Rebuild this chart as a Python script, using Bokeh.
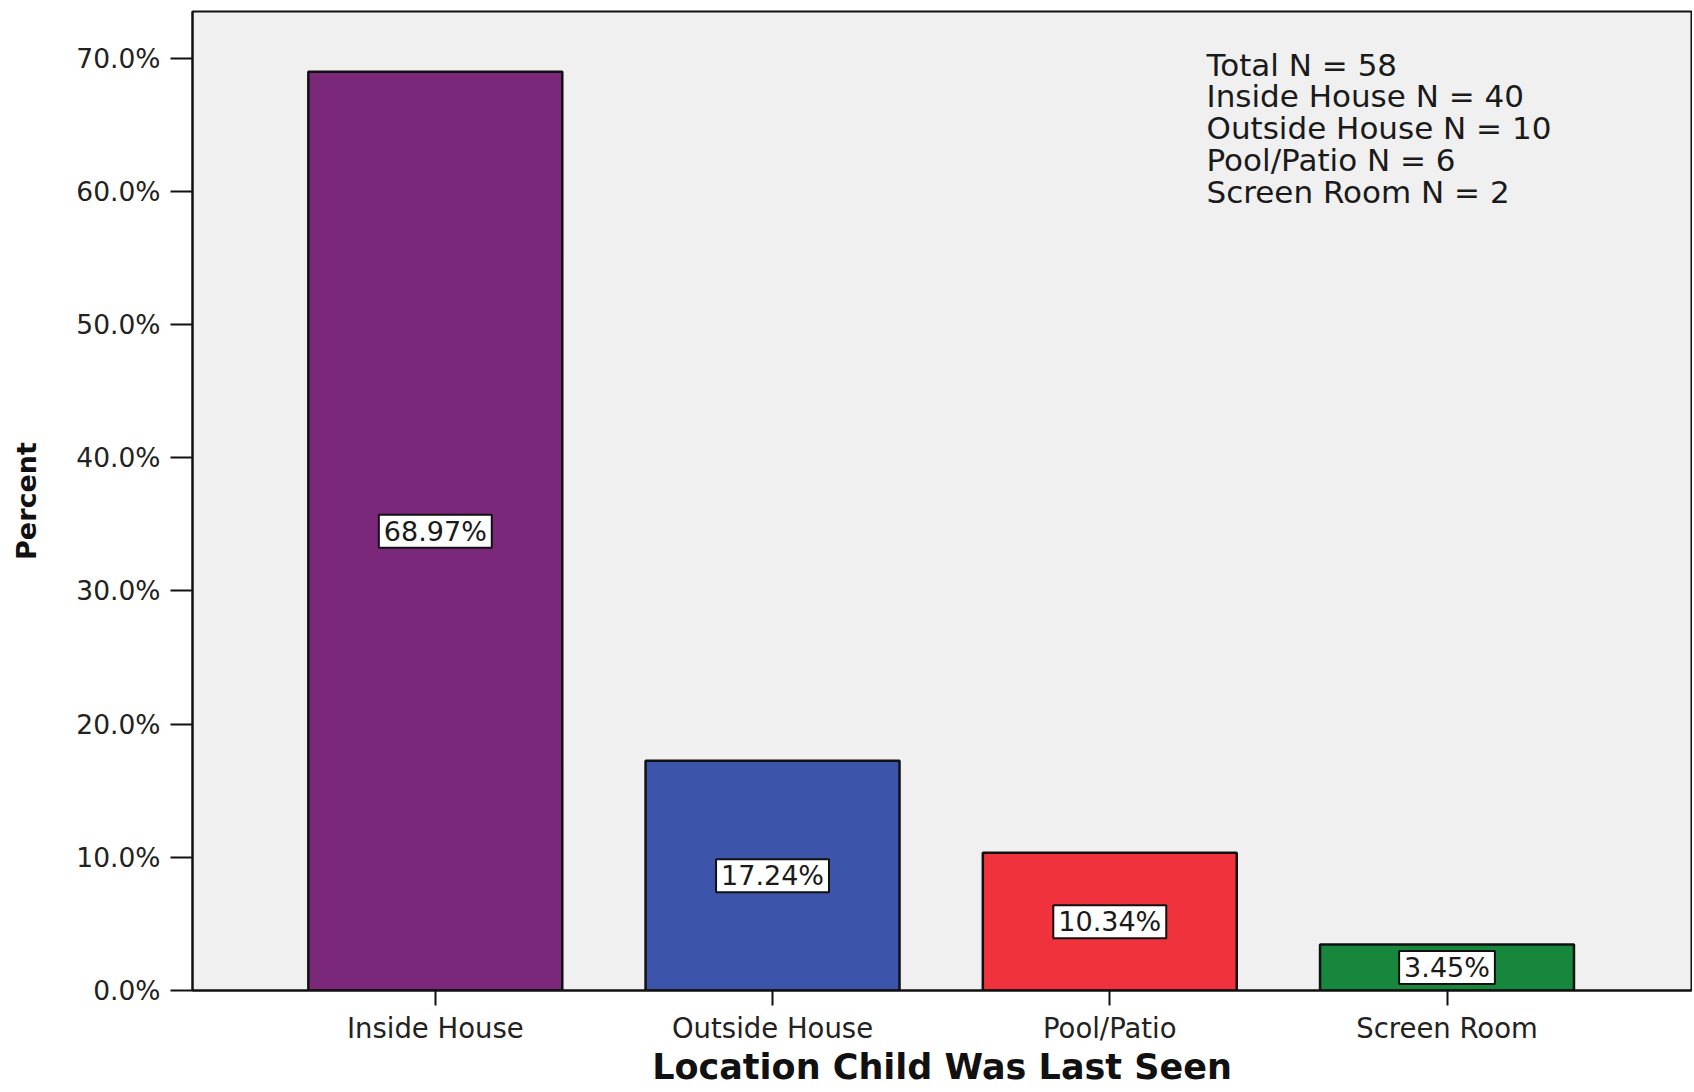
from bokeh.plotting import figure
from bokeh.models import Range1d, FixedTicker, PrintfTickFormatter, Label, ColumnDataSource
from bokeh.embed import file_html
from bokeh.resources import INLINE

# ---- data ----
categories = ["Inside House", "Outside House", "Pool/Patio", "Screen Room"]
counts = [40, 10, 6, 2]
percents = [68.97, 17.24, 10.34, 3.45]
total_n = 58
y_ticks = [0, 10, 20, 30, 40, 50, 60, 70]
colors = ["#7B287B", "#3C55AA", "#EF323C", "#16873C"]

FONT = "DejaVu Sans"
xs = list(range(1, len(categories) + 1))

p = figure(width=1692, height=1090, output_backend="svg", toolbar_location=None,
           x_range=Range1d(0.28, 4.725), y_range=Range1d(0, 73.5),
           min_border_left=192, min_border_right=1, min_border_top=11, min_border_bottom=100)

p.background_fill_color = "#F0F0F0"
p.border_fill_color = "white"
p.outline_line_color = "#111111"
p.outline_line_width = 2
p.xgrid.visible = False
p.ygrid.visible = False

src = ColumnDataSource(dict(x=xs, top=percents, color=colors, cat=categories))
p.vbar(x="x", top="top", bottom=0, width=0.753, fill_color="color",
       line_color="#111111", line_width=2.5, source=src)

# value labels in white boxes at mid-height
for xi, v in zip(xs, percents):
    p.add_layout(Label(x=xi, y=v / 2, text=f"{v:.2f}%", text_align="center",
                       text_baseline="middle", text_font=FONT, text_font_size="27px",
                       text_color="#1a1a1a", background_fill_color="white",
                       border_line_color="#111111", border_line_width=2,
                       padding=dict(x=5, y=1)))

# y axis
ya = p.yaxis[0]
ya.ticker = FixedTicker(ticks=y_ticks)
ya.formatter = PrintfTickFormatter(format="%.1f%%")
ya.minor_tick_line_color = None
ya.major_tick_in = 0
ya.major_tick_out = 22
ya.major_tick_line_width = 2
ya.major_tick_line_color = "#111111"
ya.axis_line_color = "#111111"
ya.axis_line_width = 2
ya.major_label_text_font = FONT
ya.major_label_text_font_size = "26.5px"
ya.major_label_text_color = "#222222"
ya.major_label_standoff = 10
ya.axis_label = "Percent"
ya.axis_label_text_font = FONT
ya.axis_label_text_font_style = "bold"
ya.axis_label_text_font_size = "27px"
ya.axis_label_text_color = "#111111"
ya.axis_label_standoff = 31

# x axis
xa = p.xaxis[0]
xa.ticker = FixedTicker(ticks=xs)
xa.major_label_overrides = {x: c for x, c in zip(xs, categories)}
xa.minor_tick_line_color = None
xa.major_tick_in = 0
xa.major_tick_out = 15
xa.major_tick_line_width = 2
xa.major_tick_line_color = "#111111"
xa.axis_line_color = "#111111"
xa.axis_line_width = 2
xa.major_label_text_font = FONT
xa.major_label_text_font_size = "27.5px"
xa.major_label_text_color = "#222222"
xa.major_label_standoff = 6
xa.axis_label = "Location Child Was Last Seen"
xa.axis_label_text_font = FONT
xa.axis_label_text_font_style = "bold"
xa.axis_label_text_font_size = "35px"
xa.axis_label_text_color = "#111111"
xa.axis_label_standoff = 0

# N summary text
lines = [f"Total N = {total_n}"] + [f"{c} N = {n}" for c, n in zip(categories, counts)]
for i, t in enumerate(lines):
    p.add_layout(Label(x=1014, y=926 - i * 31.9, x_units="screen", y_units="screen",
                       text=t, text_align="left", text_baseline="middle",
                       text_font=FONT, text_font_size="31px", text_color="#1a1a1a"))

open("out.html", "w").write(file_html(p, INLINE))
